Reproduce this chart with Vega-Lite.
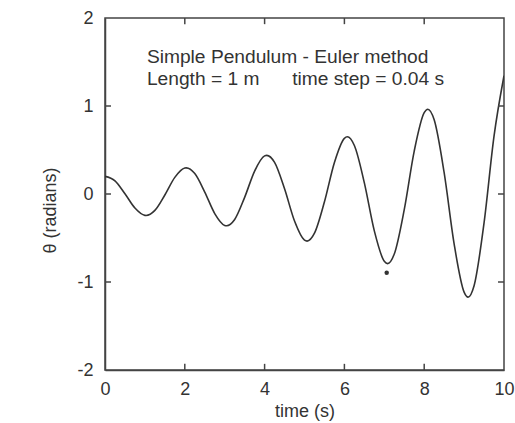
{
  "$schema": "https://vega.github.io/schema/vega-lite/v6.json",
  "width": 399,
  "height": 352,
  "autosize": "none",
  "padding": {"left": 105, "top": 18, "right": 11, "bottom": 53},
  "background": "white",
  "config": {
    "view": {"stroke": "#444", "strokeWidth": 1.5},
    "font": "Liberation Sans",
    "axis": {
      "grid": false,
      "ticks": false,
      "labelFlush": false,
      "domainColor": "#444",
      "domainWidth": 1.5,
      "labelFont": "Liberation Sans",
      "titleFont": "Liberation Sans",
      "labelFontSize": 18,
      "titleFontSize": 18,
      "labelColor": "#333",
      "titleColor": "#333",
      "titleFontWeight": "normal",
      "labelExpr": "'' + datum.value"
    }
  },
  "datasets": {
    "curve": [
      {"t": 0, "theta": 0.200}, {"t": 0.25, "theta": 0.150}, {"t": 0.5, "theta": 0.003}, {"t": 0.75, "theta": -0.160},
      {"t": 1.0, "theta": -0.243}, {"t": 1.029, "theta": -0.244}, {"t": 1.25, "theta": -0.186}, {"t": 1.5, "theta": -0.011},
      {"t": 1.75, "theta": 0.189}, {"t": 2.0, "theta": 0.295}, {"t": 2.038, "theta": 0.297}, {"t": 2.25, "theta": 0.232},
      {"t": 2.5, "theta": 0.022}, {"t": 2.75, "theta": -0.222}, {"t": 3.0, "theta": -0.357}, {"t": 3.047, "theta": -0.361},
      {"t": 3.25, "theta": -0.289}, {"t": 3.5, "theta": -0.038}, {"t": 3.75, "theta": 0.261}, {"t": 4.0, "theta": 0.433},
      {"t": 4.056, "theta": 0.439}, {"t": 4.25, "theta": 0.359}, {"t": 4.5, "theta": 0.059}, {"t": 4.75, "theta": -0.307},
      {"t": 5.0, "theta": -0.524}, {"t": 5.064, "theta": -0.535}, {"t": 5.25, "theta": -0.445}, {"t": 5.5, "theta": -0.088},
      {"t": 5.75, "theta": 0.359}, {"t": 6.0, "theta": 0.633}, {"t": 6.073, "theta": 0.650}, {"t": 6.25, "theta": 0.551},
      {"t": 6.5, "theta": 0.126}, {"t": 6.75, "theta": -0.419}, {"t": 7.0, "theta": -0.765}, {"t": 7.082, "theta": -0.791},
      {"t": 7.25, "theta": -0.682}, {"t": 7.5, "theta": -0.177}, {"t": 7.75, "theta": 0.488}, {"t": 8.0, "theta": 0.924},
      {"t": 8.091, "theta": 0.963}, {"t": 8.25, "theta": 0.843}, {"t": 8.5, "theta": 0.242}, {"t": 8.75, "theta": -0.567},
      {"t": 9.0, "theta": -1.115}, {"t": 9.1, "theta": -1.172}, {"t": 9.25, "theta": -1.042}, {"t": 9.5, "theta": -0.328},
      {"t": 9.75, "theta": 0.658}, {"t": 10.0, "theta": 1.344}
    ],
    "labels": [
      {"t": 1.05, "theta": 1.49, "text": "Simple Pendulum - Euler method"},
      {"t": 1.05, "theta": 1.24, "text": "Length = 1 m"},
      {"t": 4.69, "theta": 1.24, "text": "time step = 0.04 s"}
    ],
    "marker": [
      {"t": 7.06, "theta": -0.894}
    ],
    "ticks": [
      {"t": 2, "t2": 2, "theta": -2, "theta2": -1.93}, {"t": 4, "t2": 4, "theta": -2, "theta2": -1.93},
      {"t": 6, "t2": 6, "theta": -2, "theta2": -1.93}, {"t": 8, "t2": 8, "theta": -2, "theta2": -1.93},
      {"t": 2, "t2": 2, "theta": 2, "theta2": 1.93}, {"t": 4, "t2": 4, "theta": 2, "theta2": 1.93},
      {"t": 6, "t2": 6, "theta": 2, "theta2": 1.93}, {"t": 8, "t2": 8, "theta": 2, "theta2": 1.93},
      {"t": 0, "t2": 0.15, "theta": -1, "theta2": -1}, {"t": 0, "t2": 0.15, "theta": 0, "theta2": 0},
      {"t": 0, "t2": 0.15, "theta": 1, "theta2": 1},
      {"t": 10, "t2": 9.85, "theta": -1, "theta2": -1}, {"t": 10, "t2": 9.85, "theta": 0, "theta2": 0},
      {"t": 10, "t2": 9.85, "theta": 1, "theta2": 1}
    ]
  },
  "layer": [
    {
      "data": {"name": "curve"},
      "mark": {"type": "line", "interpolate": "monotone", "color": "#333", "strokeWidth": 1.6, "clip": true},
      "encoding": {
        "x": {"field": "t", "type": "quantitative", "scale": {"domain": [0, 10], "nice": false},
              "axis": {"title": "time (s)", "values": [0, 2, 4, 6, 8, 10], "labelPadding": 10, "titleY": 46, "titleBaseline": "alphabetic"}},
        "y": {"field": "theta", "type": "quantitative", "scale": {"domain": [-2, 2], "nice": false},
              "axis": {"title": "θ (radians)", "values": [-2, -1, 0, 1, 2], "labelPadding": 12, "titleX": -55, "titleY": 192, "titleAngle": 270, "titleAlign": "center", "titleBaseline": "middle"}}
      }
    },
    {
      "data": {"name": "ticks"},
      "mark": {"type": "rule", "color": "#444", "strokeWidth": 1.5},
      "encoding": {
        "x": {"field": "t", "type": "quantitative"},
        "x2": {"field": "t2"},
        "y": {"field": "theta", "type": "quantitative"},
        "y2": {"field": "theta2"}
      }
    },
    {
      "data": {"name": "labels"},
      "mark": {"type": "text", "align": "left", "baseline": "alphabetic", "fontSize": 19.2, "color": "#333", "font": "Liberation Sans"},
      "encoding": {
        "x": {"field": "t", "type": "quantitative"},
        "y": {"field": "theta", "type": "quantitative"},
        "text": {"field": "text"}
      }
    },
    {
      "data": {"name": "marker"},
      "mark": {"type": "point", "filled": true, "shape": "circle", "size": 20, "color": "#333", "opacity": 1},
      "encoding": {
        "x": {"field": "t", "type": "quantitative"},
        "y": {"field": "theta", "type": "quantitative"}
      }
    }
  ]
}
